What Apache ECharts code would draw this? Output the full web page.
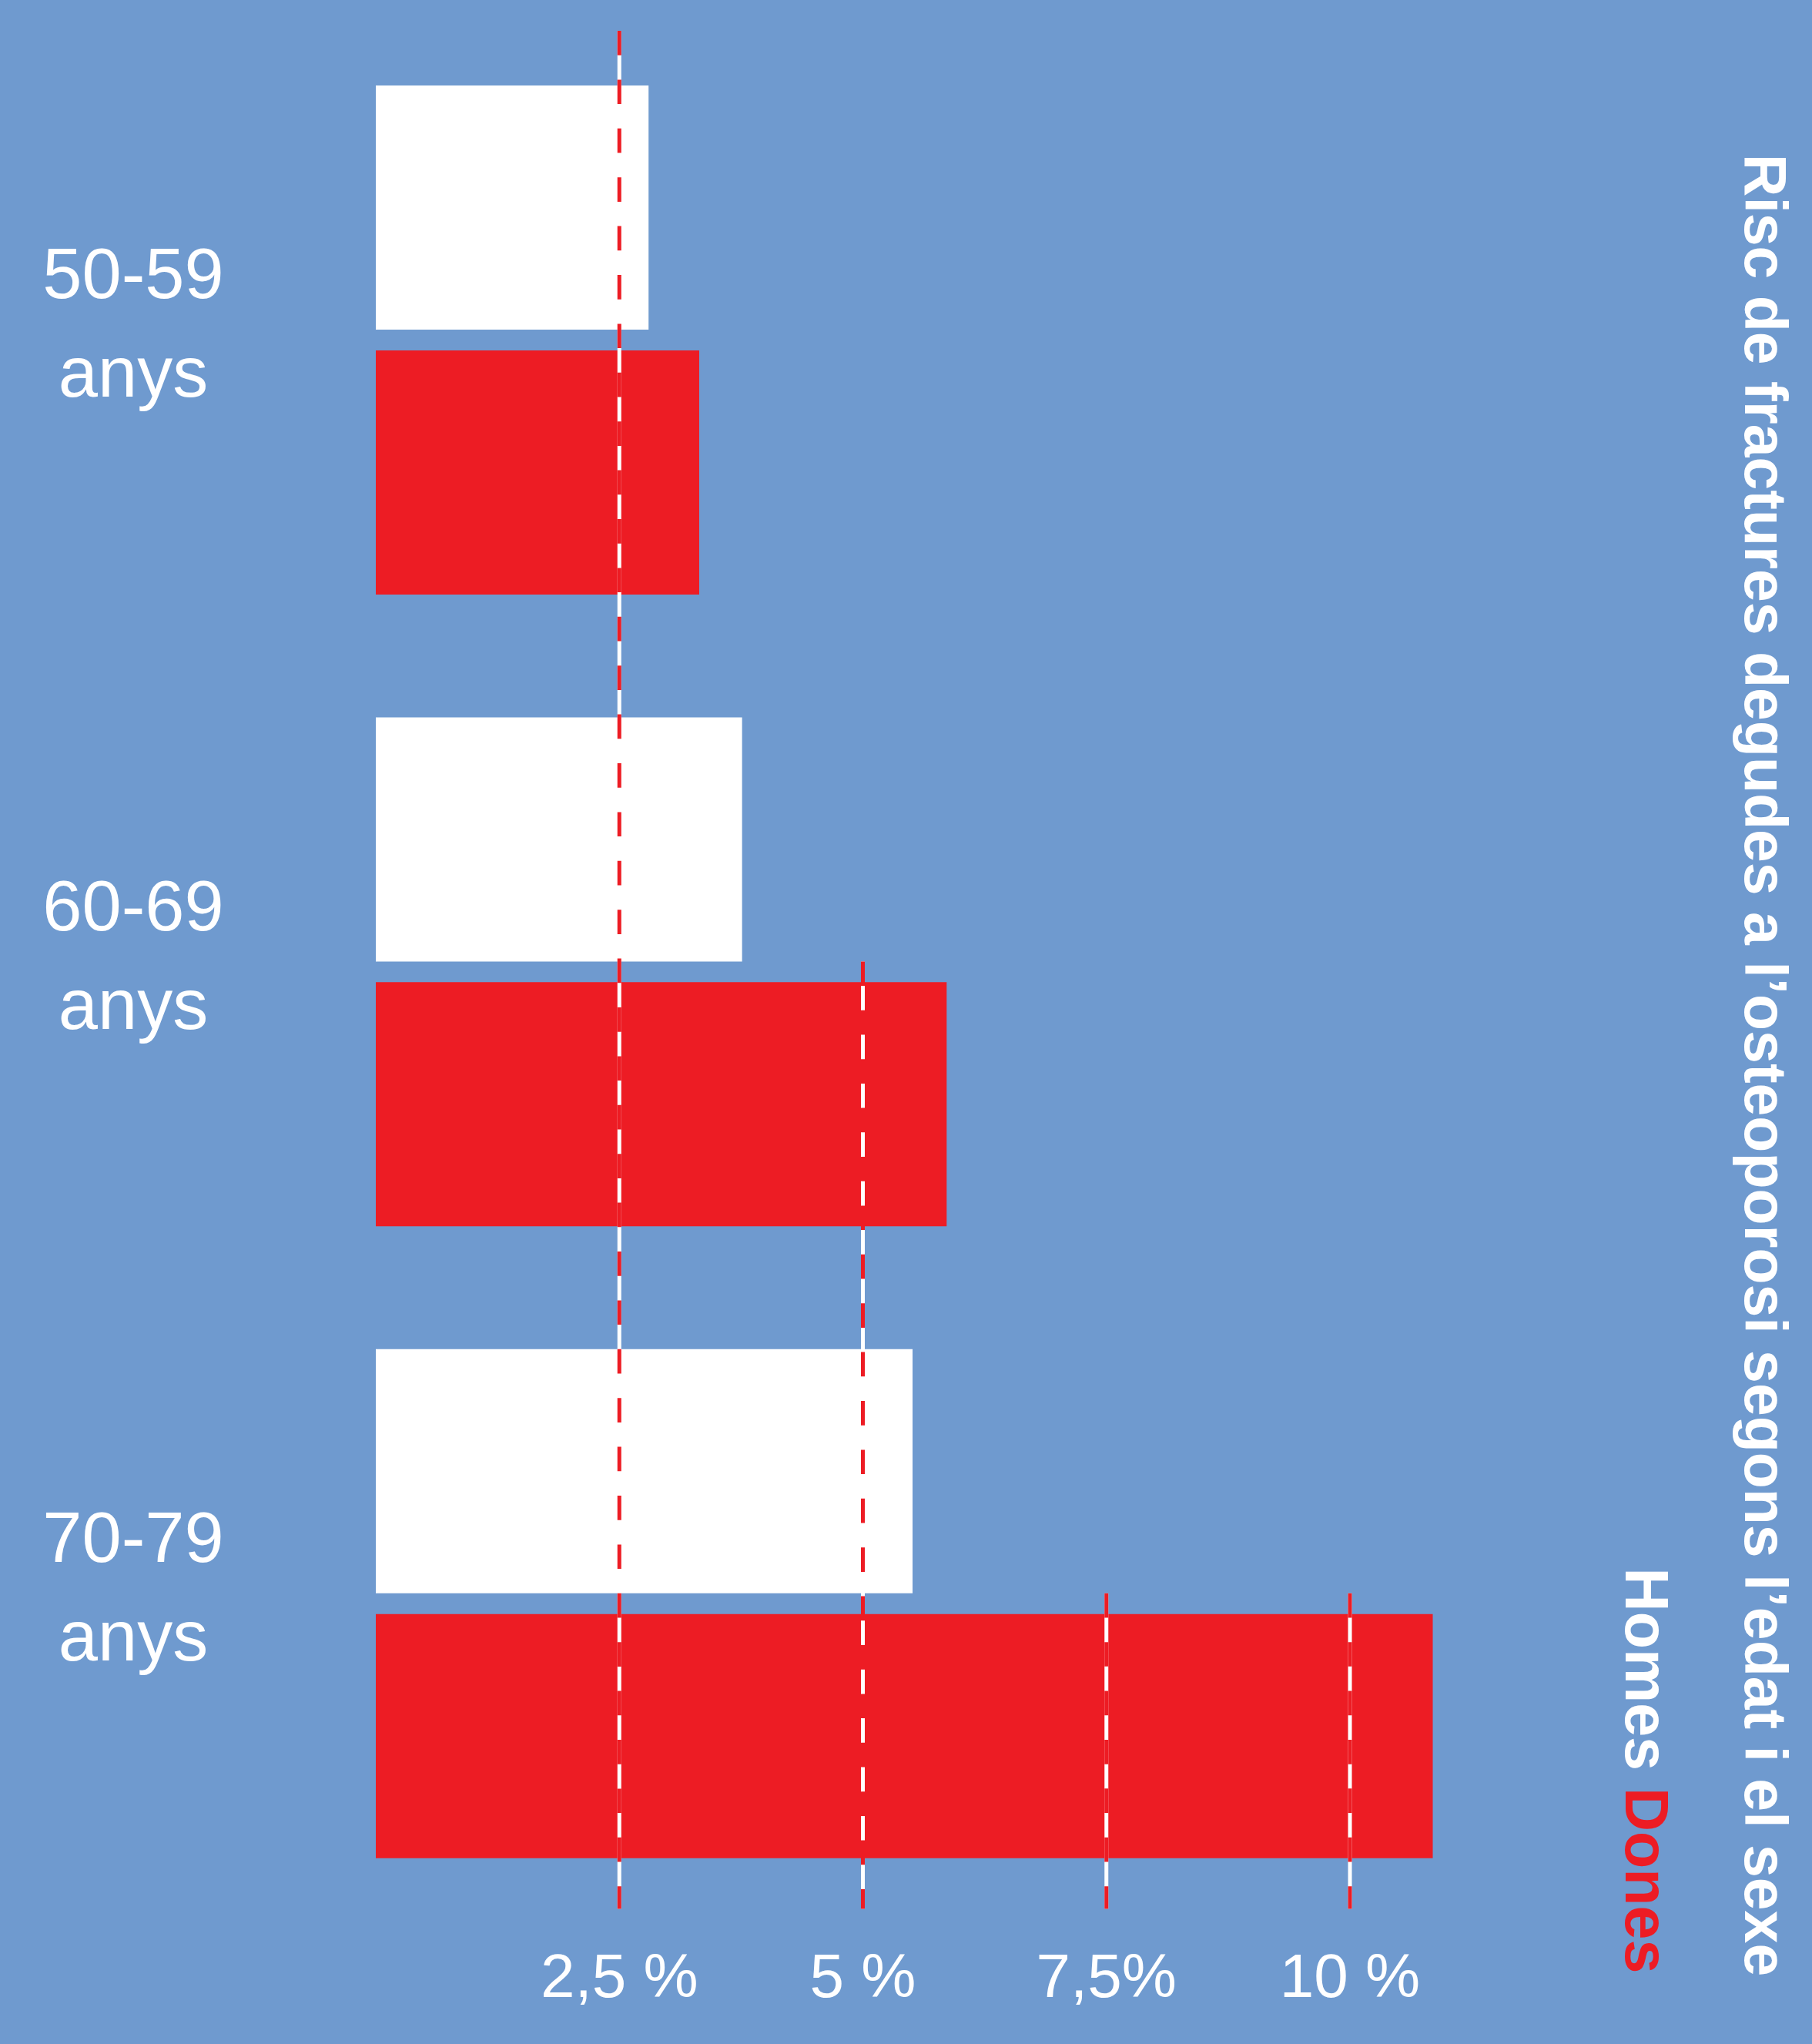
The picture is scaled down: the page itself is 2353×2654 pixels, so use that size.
<!DOCTYPE html>
<html>
<head>
<meta charset="utf-8">
<script src="https://cdn.jsdelivr.net/npm/echarts@6/dist/echarts.min.js"></script>
<style>
html,body{margin:0;padding:0;background:#6F9ACF;}
#c{width:2353px;height:2654px;}
</style>
</head>
<body>
<div id="c"></div>
<script>
// ---- data ----
const categories = ['50-59', '60-69', '70-79'];
const categorySuffix = 'anys';
const seriesNames = ['Homes', 'Dones'];
const homesValues = [2.8, 3.76, 5.51];
const donesValues = [3.32, 5.86, 10.85];
const tickValues = [2.5, 5, 7.5, 10];
const tickLabels = ['2,5 %', '5 %', '7,5%', '10 %'];
const refLineStart = [null, '60-69', '70-79', '70-79']; // category where each dashed line begins (null = top)
const titleText = 'Risc de fractures degudes a l’osteoporosi segons l’edat i el sexe';

// ---- style ----
const BG = '#6F9ACF', RED = '#ED1C24', WHITE = '#FFFFFF';
const FONT = '"Liberation Sans", Arial, sans-serif';

const chart = echarts.init(document.getElementById('c'), null, {renderer: 'canvas'});

const option = {
  backgroundColor: BG,
  animation: false,
  textStyle: {fontFamily: FONT},
  grid: {left: 488, top: 31.4, width: 1581.25, height: 2461},
  xAxis: {
    type: 'value', min: 0, max: 12.5, interval: 2.5,
    axisLine: {show: false}, axisTick: {show: false}, splitLine: {show: false},
    axisLabel: {
      color: WHITE, fontSize: 80, lineHeight: 80, fontFamily: FONT,
      verticalAlign: 'middle', margin: 79,
      formatter: v => { const i = tickValues.indexOf(v); return i < 0 ? '' : tickLabels[i]; }
    }
  },
  yAxis: {
    type: 'category', inverse: true, data: categories,
    axisLine: {show: false}, axisTick: {show: false}, splitLine: {show: false},
    axisLabel: {
      color: WHITE, fontSize: 92, fontFamily: FONT,
      align: 'center', verticalAlign: 'middle', margin: 315,
      formatter: v => '{a|' + v + '}\n{b|' + categorySuffix + '}',
      rich: {
        a: {color: WHITE, fontSize: 92, fontFamily: FONT, lineHeight: 97, align: 'center'},
        b: {color: WHITE, fontSize: 92, fontFamily: FONT, lineHeight: 159, align: 'center'}
      }
    }
  },
  series: [
    {name: seriesNames[0], type: 'bar', data: homesValues, barWidth: 317, barGap: '8.5%',
     itemStyle: {color: WHITE}},
    {name: seriesNames[1], type: 'bar', data: donesValues, barWidth: 317, barGap: '8.5%',
     itemStyle: {color: RED}},
    {
      type: 'custom', z: 10, clip: false, silent: true,
      data: tickValues.map((v, i) => [v, refLineStart[i] || categories[0]]),
      encode: {x: 0, y: 1},
      renderItem: (params, api) => {
        const cs = params.coordSys;
        const i = params.dataIndex;
        const p = api.coord([api.value(0), api.value(1)]);
        const x = p[0];
        const yTop = refLineStart[i] == null ? cs.y + 8.6 : p[1] - 13.5;
        const yBot = cs.y + cs.height - 14;
        const shape = {x1: x, y1: yTop, x2: x, y2: yBot};
        return {
          type: 'group',
          children: [
            {type: 'line', shape: shape, style: {stroke: WHITE, lineWidth: 5}},
            {type: 'line', shape: shape, style: {stroke: RED, lineWidth: 5, lineDash: [31.7, 31.7]}}
          ]
        };
      }
    }
  ],
  graphic: [
    {
      type: 'text', x: 2287, y: 1383, rotation: -Math.PI / 2,
      style: {
        text: titleText, fill: WHITE,
        fontSize: 77, fontWeight: 'bold', fontFamily: FONT,
        align: 'center', verticalAlign: 'middle'
      }
    },
    {
      type: 'text', x: 2133, y: 2299, rotation: -Math.PI / 2,
      style: {
        text: '{h|' + seriesNames[0] + '} {d|' + seriesNames[1] + '}',
        fill: WHITE, fontSize: 79, fontWeight: 'bold', fontFamily: FONT,
        align: 'center', verticalAlign: 'middle',
        rich: {
          h: {fill: WHITE, color: WHITE, fontSize: 79, fontWeight: 'bold', fontFamily: FONT},
          d: {fill: RED, color: RED, fontSize: 79, fontWeight: 'bold', fontFamily: FONT}
        }
      }
    }
  ]
};

chart.setOption(option);
</script>
</body>
</html>
